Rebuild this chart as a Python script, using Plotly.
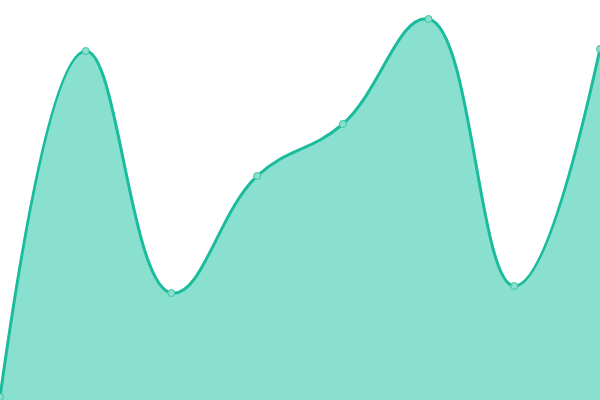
import plotly.graph_objects as go

categories = ["A", "B", "C", "D", "E", "F", "G", "H"]
values = [3, 349, 107, 224, 276, 381, 114, 351]

fig = go.Figure()
fig.add_trace(go.Scatter(
    x=list(range(len(categories))),
    y=values,
    mode="lines+markers",
    line=dict(shape="spline", smoothing=1.2, color="#1abc9c", width=3),
    fill="tozeroy",
    fillcolor="#8ae0cf",
    marker=dict(size=7, color="#8ae0cf", line=dict(color="#3cc4a8", width=1)),
    cliponaxis=False,
    hoverinfo="skip",
))
fig.update_layout(
    width=600, height=400,
    margin=dict(l=0, r=0, t=0, b=0),
    paper_bgcolor="white", plot_bgcolor="white",
    showlegend=False,
    xaxis=dict(visible=False, range=[0, len(categories) - 1], fixedrange=True),
    yaxis=dict(visible=False, range=[0, 400], fixedrange=True),
)
fig.write_html(
    "out.html",
    config={"displayModeBar": False},
    post_script="document.body.style.margin='0';document.body.style.overflow='hidden';",
)
